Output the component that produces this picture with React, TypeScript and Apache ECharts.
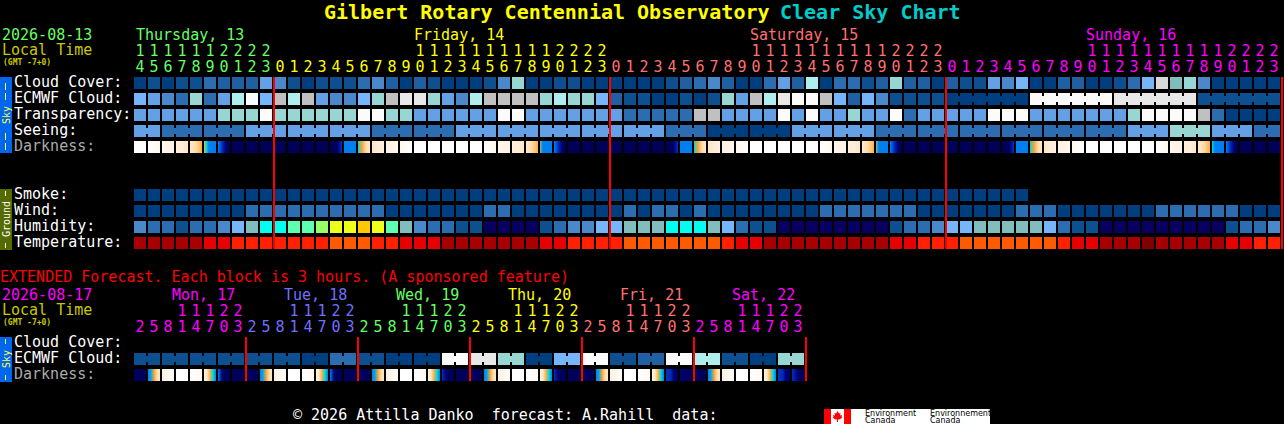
import React, { useEffect, useRef } from "react";
import * as echarts from "echarts";

const title = "Gilbert Rotary Centennial Observatory";
const subtitle = "Clear Sky Chart";

const unitsMain = [
  "4","5","6","7","8","9","0","1","2","3",
  "0","1","2","3","4","5","6","7","8","9","0","1","2","3","4","5","6","7","8","9","0","1","2","3",
  "0","1","2","3","4","5","6","7","8","9","0","1","2","3","4","5","6","7","8","9","0","1","2","3",
  "0","1","2","3","4","5","6","7","8","9","0","1","2","3","4","5","6","7","8","9","0","1","2","3",
];
const tensMain = [
  "1","1","1","1","1","1","2","2","2","2",
  "","","","","","","","","","","1","1","1","1","1","1","1","1","1","1","2","2","2","2",
  "","","","","","","","","","","1","1","1","1","1","1","1","1","1","1","2","2","2","2",
  "","","","","","","","","","","1","1","1","1","1","1","1","1","1","1","2","2","2","2",
];
const unitsExt = [
  "2","5","8","1","4","7","0","3","2","5","8","1","4","7","0","3",
  "2","5","8","1","4","7","0","3","2","5","8","1","4","7","0","3",
  "2","5","8","1","4","7","0","3","2","5","8","1","4","7","0","3",
];
const tensExt = [
  "","","","1","1","1","2","2","","","","1","1","1","2","2",
  "","","","1","1","1","2","2","","","","1","1","1","2","2",
  "","","","1","1","1","2","2","","","","1","1","1","2","2",
];

const rowsMain = ["Cloud Cover:","ECMWF Cloud:","Transparency:","Seeing:","Darkness:","","","Smoke:","Wind:","Humidity:","Temperature:"];
const rowsExt = ["Cloud Cover:","ECMWF Cloud:","Darkness:"];

const daysMain = [
  { label: "Thursday, 13", col: 0, end: 10 },
  { label: "Friday, 14", col: 20, end: 34 },
  { label: "Saturday, 15", col: 44, end: 58 },
  { label: "Sunday, 16", col: 68, end: 82 },
];
const daysExt = [
  { label: "Mon, 17", end: 8 },
  { label: "Tue, 18", end: 16 },
  { label: "Wed, 19", end: 24 },
  { label: "Thu, 20", end: 32 },
  { label: "Fri, 21", end: 40 },
  { label: "Sat, 22", end: 48 },
];
const dayColorsMain = ["#66ff66", "#ffff00", "#ff7070", "#ff00ff"];
const dayColorsExt = ["#ff00ff", "#7070ff", "#66ff66", "#ffff00", "#ff7070", "#ff00ff"];

const cloudCover = [
  0,1,0,1,1,3,2,2,2,5,
  4,1,0,1,1,1,3,4,2,0,
  2,1,0,0,0,1,4,7,0,0,
  1,1,0,0,0,0,0,0,1,2,
  3,4,2,0,0,3,5,2,8,0,
  3,3,1,2,7,2,2,0,2,1,
  1,5,4,6,0,0,2,2,0,0,
  1,3,6,13,12,7,4,0,0,0,
  0,0,
];
const ecmwfCloud = [
  6,5,4,3,7,3,5,8,11,6,
  9,8,9,5,4,4,6,7,9,10,
  10,7,5,4,8,9,9,9,9,7,
  8,7,7,6,2,1,1,0,0,1,
  0,1,7,5,9,8,10,11,11,9,
  6,2,6,4,1,1,1,1,0,0,
  0,0,0,0,11,11,11,11,11,11,
  10,10,10,10,10,10,1,1,1,1,
  1,1,
];
const transparency = [
  5,5,5,5,5,5,7,7,7,11,
  7,7,7,7,7,7,11,11,7,7,
  5,5,5,5,5,5,11,11,5,5,
  5,5,5,5,5,3,3,3,3,3,
  9,9,5,5,5,5,11,5,11,5,
  5,7,5,5,11,3,5,5,5,5,
  5,11,11,11,5,5,5,5,5,5,
  5,7,11,11,11,11,9,3,0,0,
  0,0,
];
const seeing = [
  5,5,3,3,3,3,3,3,5,5,
  5,5,5,5,5,5,5,3,3,3,
  3,3,3,5,5,5,5,5,5,5,
  5,5,5,5,5,5,5,5,3,3,
  3,0,0,0,0,0,0,5,5,5,
  5,5,5,3,3,3,3,3,3,3,
  3,3,3,3,3,3,3,3,3,3,
  3,5,5,5,7,7,7,5,5,5,
  3,3,
];
const seeingRuns = [
  [0,1],[2,4],[5,7],[8,10],[11,13],[14,16],[17,19],[20,22],[23,25],[26,28],[29,31],[32,34],[35,37],[38,40],
  [41,43],[44,46],[47,49],[50,52],[53,55],[56,58],[59,61],[62,64],[65,67],[68,70],[71,73],[74,76],[77,79],[80,81],
];
const ecmwfRuns = [[58,63],[64,69],[70,75],[76,81]];
const darkness = [
  "W","Wa","ab","bc","cdo","otBBBB","BmnN","N","N","N",
  "N","N","N","N","NNnm","B","tOdc","cb","ba","aW",
  "W","W","W","W","W","Wa","ab","bc","cdo","gBBBB",
  "BmnN","N","N","N","N","N","N","N","NNnm","B",
  "tOdc","cb","ba","aW","W","W","W","W","W","Wa",
  "ab","bc","cdo","gBBBB","BmnN","N","N","N","N","N",
  "N","N","NNnm","B","tOdc","cb","ba","aW","W","W",
  "W","W","W","Wa","ab","bc","cdo","tBBBB","BmnN","N",
  "N","N",
];
const smoke = [
  0,0,0,0,0,0,0,0,0,0,
  0,0,0,0,0,0,0,0,0,0,
  0,0,0,0,0,0,0,0,0,0,
  0,0,0,0,0,0,0,0,0,0,
  0,0,0,0,0,0,0,0,0,0,
  0,0,0,0,0,0,0,0,0,0,
  0,0,0,0,
];
const wind = [
  0,0,0,0,0,0,0,0,3,3,
  3,3,3,3,3,3,3,3,0,0,
  0,0,0,0,0,3,3,0,0,0,
  0,0,0,0,0,3,0,3,3,0,
  3,0,0,0,0,0,0,0,0,3,
  3,3,3,3,3,3,0,0,0,0,
  0,0,0,3,3,3,0,0,0,0,
  0,0,0,3,3,3,3,3,3,0,
  0,0,
];
const humidity = [
  4,3,3,1,3,3,4,6,12,15,
  15,16,16,17,18,18,19,18,16,12,
  4,3,3,1,1,14,14,14,14,1,
  3,4,4,6,6,12,12,12,15,15,
  15,12,6,3,1,1,14,14,14,14,
  14,14,14,14,1,3,3,4,6,6,
  12,12,12,12,12,6,3,1,1,14,
  14,14,14,14,14,14,14,14,1,3,
  3,4,
];
const temperature = [
  20,20,20,20,20,21,21,22,22,22,
  22,22,22,22,23,23,23,22,22,21,
  21,21,20,20,20,20,20,20,20,21,
  21,22,22,22,22,23,23,23,23,23,
  23,23,22,21,21,20,20,20,20,20,
  20,20,20,20,21,21,22,22,22,23,
  23,23,23,23,23,23,22,21,21,20,
  20,20,24,20,20,20,20,20,21,21,
  22,22,
];
const ecmwfExt = [
  1,1,1,1,1,1,1,1,1,1,1,1,0,0,3,3,
  1,1,0,0,0,0,11,11,10,10,7,7,0,0,6,6,
  11,11,1,1,2,2,11,11,8,8,1,1,0,0,7,7,
];
const ecmwfExtRuns = [
  [0,1],[2,3],[4,5],[6,7],[8,9],[10,11],[12,13],[14,15],[16,17],[18,19],[20,21],[22,23],
  [24,25],[26,27],[28,29],[30,31],[32,33],[34,35],[36,37],[38,39],[40,41],[42,43],[44,45],[46,47],
];
const darknessExt = [
  "N","BsOdc","bW","W","Wa","bcotB","BnNN","N",
  "N","BsOdc","bW","W","Wa","bcotB","BnNN","N",
  "N","BsOdc","bW","W","Wa","bcotB","mnNN","N",
  "N","BsOdc","bW","W","Wa","bcotB","mnNN","N",
  "N","BsOdc","bW","W","Wa","bcotB","mmnN","nN",
  "N","BsOdc","bW","W","Wa","bcotB","mmnn","mnN",
];
const boundariesMain = [10, 34, 58, 82];
const boundariesExt = [8, 16, 24, 32, 40, 48];

const palette = [
  "#003f7f","#0e4f90","#1f5fa2","#2c6cb0","#4a88cb","#63a0e6","#77b5fb","#98d6d3","#aeeeee",
  "#c0c0c0","#e8e8e8","#fbfbfb","#82bdbd","#d8d8d8","#080060","#00ffee","#5fffb0","#99ff66",
  "#eeff1a","#ffc800","#a80000","#e60000","#ff2000","#ff5a00","#800000",
];
const darkColors: Record<string, string> = {
  W: "#ffffff", a: "#fff8f0", b: "#fff0e0", c: "#ffe8c8", d: "#ffdca8", o: "#ffb040", O: "#ffa030",
  g: "#90b080", t: "#00d8e0", s: "#00a8f0", B: "#0080f0", m: "#0030c0", n: "#000070", N: "#000058",
};

const MONO = '"DejaVu Sans Mono", monospace';

function stripe(code: string) {
  if (code.length === 1) return darkColors[code];
  return {
    type: "linear", x: 0, y: 0, x2: 1, y2: 0,
    colorStops: code.split("").map((c, i) => ({ offset: i / (code.length - 1), color: darkColors[c] })),
  };
}

function cells(name: string, grid: number, row: number, fills: any[], runs: number[][] = []) {
  const bridged = (i: number) => runs.some(([a, b]) => i >= a && i < b);
  return {
    type: "custom", name, silent: true, clip: false, z: 2,
    xAxisIndex: grid * 2, yAxisIndex: grid,
    encode: { x: 0, y: 1 },
    data: fills.map((_, i) => [i, row]),
    renderItem: (params: any, api: any) => {
      const i = params.dataIndex;
      const p = api.coord([i, row]);
      const children: any[] = [
        { type: "rect", shape: { x: p[0] - 6, y: p[1] - 6, width: 12, height: 12 }, style: { fill: fills[i] } },
      ];
      if (bridged(i)) {
        children.push({ type: "rect", shape: { x: p[0] + 6, y: p[1] - 3, width: 2, height: 6 }, style: { fill: fills[i] } });
      }
      return { type: "group", children };
    },
  };
}

function dayRules(name: string, grid: number, marks: number[], lastRow: number) {
  return {
    type: "custom", name, silent: true, clip: false, z: 5,
    xAxisIndex: grid * 2, yAxisIndex: grid,
    encode: { x: 0, y: 1 },
    data: marks.map((m) => [m - 1, 0]),
    renderItem: (_: any, api: any) => {
      const top = api.coord([api.value(0), 0]);
      const bottom = api.coord([api.value(0), lastRow]);
      return {
        type: "rect",
        shape: { x: top[0] + 7, y: top[1] - 6, width: 2, height: bottom[1] - top[1] + 12 },
        style: { fill: "#ff0000" },
      };
    },
  };
}

function hourAxis(grid: number, labels: string[], colors: string[], offset: number) {
  return {
    type: "category", gridIndex: grid, position: "top", offset,
    data: labels.map((value, i) => ({ value, textStyle: { color: colors[i] } })),
    axisLine: { show: false }, axisTick: { show: false }, splitLine: { show: false },
    axisLabel: { interval: 0, margin: 1, fontFamily: MONO, fontSize: 15, hideOverlap: false },
  };
}

function rowAxis(grid: number, labels: string[]) {
  return {
    type: "category", gridIndex: grid, inverse: true,
    data: labels.map((value) => ({
      value,
      textStyle: {
        color: value === "Darkness:" ? "#aaaaaa" : "#ffffff",
        align: "left",
        verticalAlign: "bottom",
        lineHeight: 15,
        padding: [0, 0, -6, 0],
      },
    })),
    axisLine: { show: false }, axisTick: { show: false }, splitLine: { show: false },
    axisLabel: { interval: 0, margin: 119, fontFamily: MONO, fontSize: 15, hideOverlap: false },
  };
}

const txt = (text: string, x: number, y: number, fill: string, size = 15, weight = "normal") => ({
  type: "text", silent: true,
  style: { text, x, y, fill, font: `${weight} ${size}px ${MONO}`, verticalAlign: "middle" },
});
const vtxt = (text: string, x: number, y: number, fill: string) => ({
  type: "text", silent: true, x, y, rotation: Math.PI / 2,
  style: { text, x: 0, y: 0, fill, font: `10px ${MONO}`, align: "center", verticalAlign: "middle" },
});
const box = (x: number, y: number, width: number, height: number, fill: string) => ({
  type: "rect", silent: true, shape: { x, y, width, height }, style: { fill },
});

export default function App() {
  const ref = useRef<HTMLDivElement>(null);
  useEffect(() => {
    document.body.style.margin = "0";
    document.body.style.background = "#000";
    document.body.style.overflow = "hidden";
    const chart = echarts.init(ref.current!, undefined, { renderer: "svg" });
    const colorsMain = unitsMain.map((_, i) => dayColorsMain[daysMain.findIndex((d) => i < d.end)]);
    const colorsExt = unitsExt.map((_, i) => dayColorsExt[daysExt.findIndex((d) => i < d.end)]);
    const fill = (vals: number[]) => vals.map((v) => palette[v]);
    const leaf = [
      [837.5, 411], [839, 413.5], [840.5, 413], [840, 415.5], [842, 415], [841.5, 417], [842.5, 417.5],
      [839.5, 419.5], [838, 419.5], [838, 422], [837, 422], [837, 419.5], [835.5, 419.5], [832.5, 417.5],
      [833.5, 417], [833, 415], [835, 415.5], [834.5, 413], [836, 413.5],
    ];
    chart.setOption({
      animation: false,
      backgroundColor: "#000000",
      title: [
        { text: title, left: 324, top: 2, padding: 0, textStyle: { color: "#ffff00", fontFamily: MONO, fontWeight: "bold", fontSize: 20 } },
        { text: subtitle, left: 780, top: 2, padding: 0, textStyle: { color: "#00cccc", fontFamily: MONO, fontWeight: "bold", fontSize: 20 } },
      ],
      grid: [
        { left: 133, top: 75, width: 1148, height: 176, outerBoundsMode: "none", containLabel: false },
        { left: 133, top: 335, width: 672, height: 48, outerBoundsMode: "none", containLabel: false },
      ],
      xAxis: [
        hourAxis(0, unitsMain, colorsMain, 0),
        hourAxis(0, tensMain, colorsMain, 16),
        hourAxis(1, unitsExt, colorsExt, 0),
        hourAxis(1, tensExt, colorsExt, 16),
      ],
      yAxis: [rowAxis(0, rowsMain), rowAxis(1, rowsExt)],
      series: [
        cells("Cloud Cover", 0, 0, fill(cloudCover)),
        cells("ECMWF Cloud", 0, 1, fill(ecmwfCloud), ecmwfRuns),
        cells("Transparency", 0, 2, fill(transparency)),
        cells("Seeing", 0, 3, fill(seeing), seeingRuns),
        cells("Darkness", 0, 4, darkness.map(stripe)),
        cells("Smoke", 0, 7, fill(smoke)),
        cells("Wind", 0, 8, fill(wind)),
        cells("Humidity", 0, 9, fill(humidity)),
        cells("Temperature", 0, 10, fill(temperature)),
        dayRules("Midnight", 0, boundariesMain, 10),
        cells("ECMWF Cloud (extended)", 1, 1, fill(ecmwfExt), ecmwfExtRuns),
        cells("Darkness (extended)", 1, 2, darknessExt.map(stripe)),
        dayRules("Midnight (extended)", 1, boundariesExt, 2),
      ],
      graphic: [
        txt("2026-08-13", 2, 35, "#66ff66"),
        txt("Local Time", 2, 50, "#c8c800"),
        txt("(GMT -7+0)", 3, 62, "#c8c800", 8, "bold"),
        txt(daysMain[0].label, 136, 35, dayColorsMain[0]),
        txt(daysMain[1].label, 414, 35, dayColorsMain[1]),
        txt(daysMain[2].label, 750, 35, dayColorsMain[2]),
        txt(daysMain[3].label, 1086, 35, dayColorsMain[3]),
        txt("EXTENDED Forecast. Each block is 3 hours. (A sponsored feature)", 0, 277, "#ff0000"),
        txt("2026-08-17", 2, 295, "#ff00ff"),
        txt("Local Time", 2, 310, "#c8c800"),
        txt("(GMT -7+0)", 3, 322, "#c8c800", 8, "bold"),
        txt(daysExt[0].label, 172, 295, dayColorsExt[0]),
        txt(daysExt[1].label, 284, 295, dayColorsExt[1]),
        txt(daysExt[2].label, 396, 295, dayColorsExt[2]),
        txt(daysExt[3].label, 508, 295, dayColorsExt[3]),
        txt(daysExt[4].label, 620, 295, dayColorsExt[4]),
        txt(daysExt[5].label, 732, 295, dayColorsExt[5]),
        txt("\u00a9 2026 Attilla Danko  forecast: A.Rahill  data:", 293, 415, "#ffffff"),
        box(0, 77, 12, 76, "#0066ee"),
        box(5, 83, 1, 7, "#ffff40"), box(5, 93, 1, 7, "#ffff40"),
        box(5, 133, 1, 7, "#ffff40"), box(5, 143, 1, 7, "#ffff40"),
        vtxt("Sky", 6, 115, "#ffff40"),
        box(0, 189, 12, 61, "#556b00"),
        box(5, 191, 1, 5, "#ffffff"), box(5, 243, 1, 5, "#ffffff"),
        vtxt("Ground", 6, 219, "#ffffff"),
        box(0, 337, 12, 45, "#0066ee"),
        box(5, 339, 1, 5, "#ffff40"), box(5, 375, 1, 5, "#ffff40"),
        vtxt("Sky", 6, 359, "#ffff40"),
        box(824, 409, 166, 15, "#ffffff"),
        box(824, 409, 7, 15, "#ff0000"),
        box(844, 409, 7, 15, "#ff0000"),
        { type: "polygon", silent: true, shape: { points: leaf }, style: { fill: "#ff0000" } },
        { type: "text", silent: true, style: { text: "Environment", x: 865, y: 413, fill: "#000", font: '8px "DejaVu Sans"', verticalAlign: "middle" } },
        { type: "text", silent: true, style: { text: "Canada", x: 865, y: 420, fill: "#000", font: '8px "DejaVu Sans"', verticalAlign: "middle" } },
        { type: "text", silent: true, style: { text: "Environnement", x: 930, y: 413, fill: "#000", font: '8px "DejaVu Sans"', verticalAlign: "middle" } },
        { type: "text", silent: true, style: { text: "Canada", x: 930, y: 420, fill: "#000", font: '8px "DejaVu Sans"', verticalAlign: "middle" } },
      ],
    });
    return () => chart.dispose();
  }, []);
  return <div ref={ref} style={{ width: 1284, height: 424 }} />;
}
